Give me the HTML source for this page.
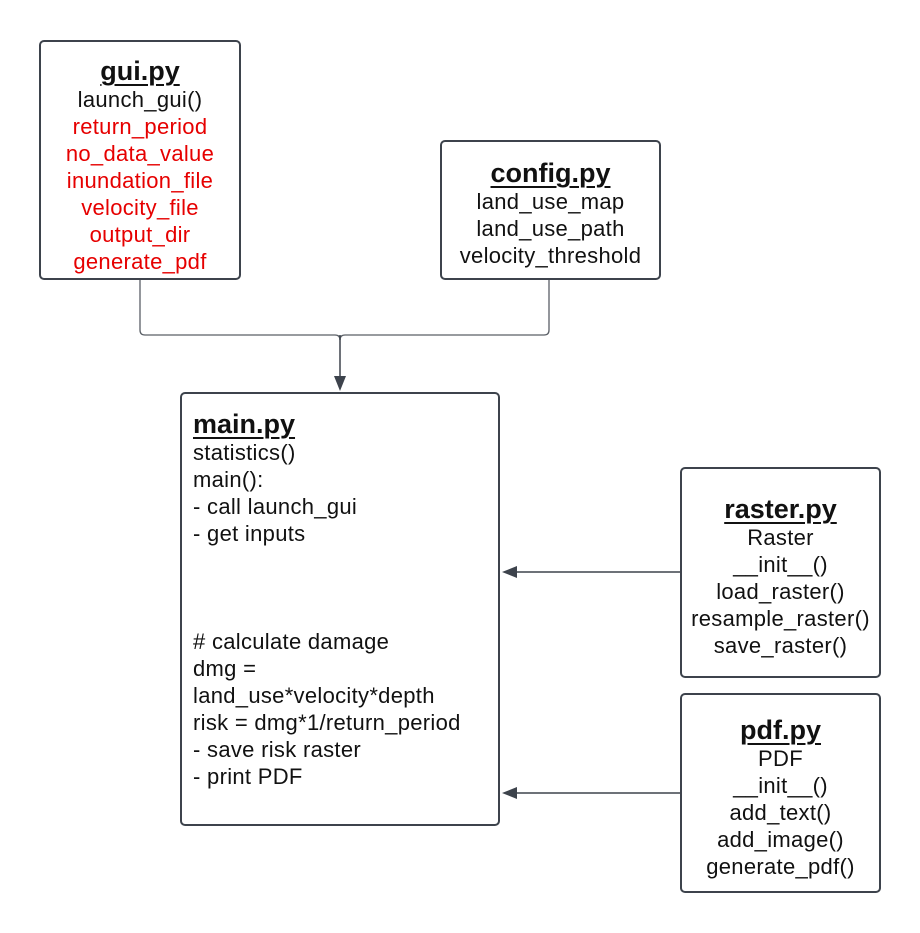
<!DOCTYPE html>
<html><head><meta charset="utf-8"><style>
body{margin:0;width:920px;height:933px;background:#fff;position:relative;font-family:"Liberation Sans",sans-serif;overflow:hidden}
.b{position:absolute;border:2px solid #3d434c;border-radius:5px;box-sizing:border-box;font-size:22px;letter-spacing:0.3px;line-height:27px;color:#111;white-space:nowrap}
.c{text-align:center}
.t{font-weight:bold;font-size:27px;letter-spacing:0;text-decoration:underline;text-underline-offset:4px;text-decoration-thickness:2px;line-height:30px}
.r{color:#e60000}
svg{position:absolute;left:0;top:0}
</style></head><body>
<svg width="920" height="933">
<g fill="none" stroke="#5a5f66" stroke-width="1.3">
<path d="M140 280 V330 Q140 335 145 335 H335 Q340 335 340 340"/>
<path d="M549 280 V330 Q549 335 544 335 H345 Q340 335 340 340"/>
</g>
<g stroke="#3d434c" stroke-width="1.5"><line x1="340" y1="335" x2="340" y2="380"/><line x1="680" y1="572" x2="510" y2="572"/><line x1="680" y1="793" x2="510" y2="793"/></g>
<g fill="#3d434c"><path d="M334 376 L346 376 L340 391Z"/><path d="M502 572 L517 566 L517 578Z"/><path d="M502 793 L517 787 L517 799Z"/></g>
</svg>
<div class="b c" style="left:39px;top:40px;width:202px;height:240px;padding-top:14px">
<div class="t">gui.py</div><div>launch_gui()</div><div class="r">return_period</div><div class="r">no_data_value</div><div class="r">inundation_file</div><div class="r">velocity_file</div><div class="r">output_dir</div><div class="r">generate_pdf</div></div>
<div class="b c" style="left:440px;top:140px;width:221px;height:140px;padding-top:16px">
<div class="t">config.py</div><div>land_use_map</div><div>land_use_path</div><div>velocity_threshold</div></div>
<div class="b" style="left:180px;top:392px;width:320px;height:434px;padding:15px 0 0 11px">
<div class="t">main.py</div><div>statistics()</div><div>main():</div><div>- call launch_gui</div><div>- get inputs</div><div>&nbsp;</div><div>&nbsp;</div><div>&nbsp;</div><div># calculate damage</div><div>dmg =</div><div>land_use*velocity*depth</div><div>risk = dmg*1/return_period</div><div>- save risk raster</div><div>- print PDF</div></div>
<div class="b c" style="left:680px;top:467px;width:201px;height:211px;padding-top:25px">
<div class="t">raster.py</div><div>Raster</div><div>__init__()</div><div>load_raster()</div><div>resample_raster()</div><div>save_raster()</div></div>
<div class="b c" style="left:680px;top:693px;width:201px;height:200px;padding-top:20px">
<div class="t">pdf.py</div><div>PDF</div><div>__init__()</div><div>add_text()</div><div>add_image()</div><div>generate_pdf()</div></div>
</body></html>
